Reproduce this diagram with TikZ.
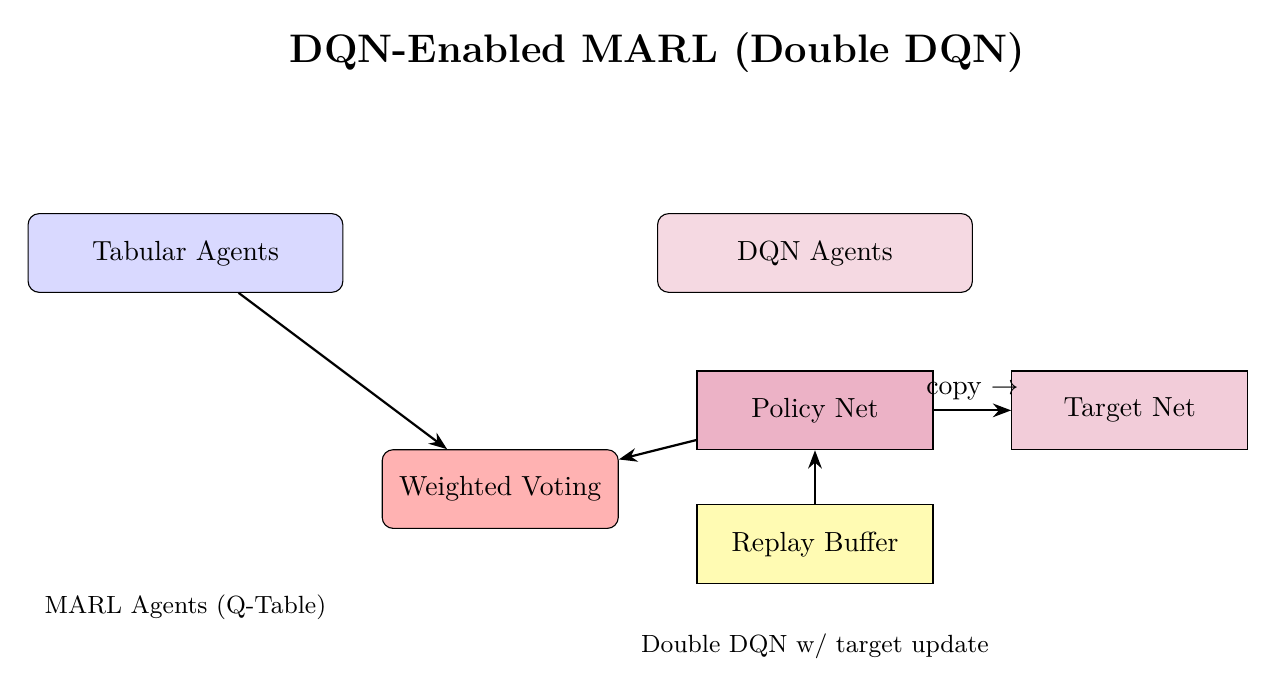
\documentclass[tikz,border=0pt]{standalone}
\usetikzlibrary{arrows.meta}
\begin{document}
\begin{tikzpicture}[
  box/.style={draw, minimum width=4cm, minimum height=1cm, align=center},
  rbox/.style={box, rounded corners},
  wbox/.style={draw, minimum width=3cm, minimum height=1cm, align=center},
  rwbox/.style={wbox, rounded corners},
  conn/.style={-{Stealth}, thick}
]
\useasboundingbox (-2.357,-5.642) rectangle (13.871,3.215);
\node[font=\Large\bfseries] (title) at (6,2.55) {DQN-Enabled MARL (Double DQN)};
\node[rbox, fill=blue!15] (tab) at (0,0) {Tabular Agents};
\node[rbox, fill=purple!15] (dqn) at (8,0) {DQN Agents};
\node[wbox, fill=purple!30] (policy) at (8,-2) {Policy Net};
\node[wbox, fill=purple!20] (target) at (12,-2) {Target Net};
\node[rwbox, fill=red!30] (vote) at (4,-3) {Weighted Voting};
\node[wbox, fill=yellow!30] (replay) at (8,-3.7) {Replay Buffer};
\node[font=\small] (marl) at (0,-4.5) {MARL Agents (Q-Table)};
\node[font=\small] (ddqn) at (8,-5) {Double DQN w/ target update};
\draw[conn] (tab) -- (vote);
\draw[conn] (policy) -- (vote);
\draw[conn] (replay) -- (policy);
\draw[conn] (policy) -- node[above] {copy $\rightarrow$} (target);
\end{tikzpicture}
\end{document}
